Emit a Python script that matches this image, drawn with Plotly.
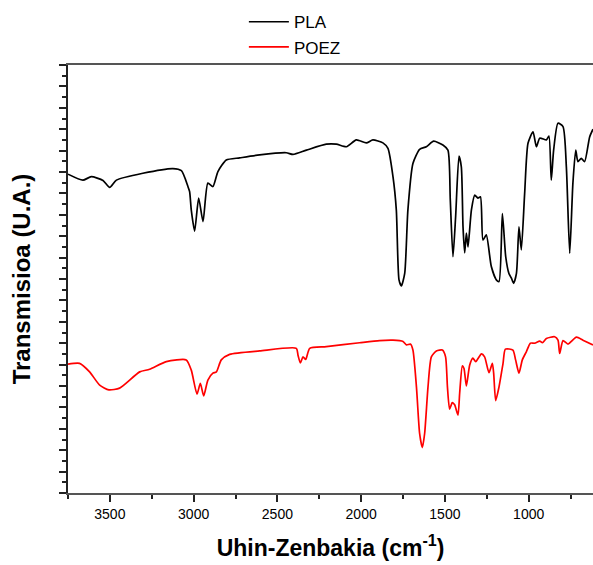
import plotly.graph_objects as go

# FTIR spectra: wavenumber (cm-1) and transmittance (arbitrary units, offset traces)
pla_wn = [3750, 3661, 3611, 3541, 3501, 3461, 3303, 3124, 3073, 3034, 3024, 3014,
          2994, 2970, 2944, 2915, 2885, 2855, 2805, 2725, 2606, 2447, 2407, 2327,
          2208, 2148, 2088, 2029, 1969, 1930, 1870, 1840, 1810, 1790, 1774, 1760,
          1740, 1721, 1691, 1651, 1611, 1567, 1512, 1482, 1468, 1452, 1436, 1416,
          1402, 1392, 1382, 1372, 1362, 1342, 1322, 1303, 1288, 1273, 1253, 1223,
          1193, 1177, 1157, 1137, 1118, 1103, 1090, 1073, 1058, 1044, 1024, 1004,
          974, 954, 934, 894, 879, 865, 851, 825, 795, 775, 755, 736, 719, 706,
          686, 666, 636, 616]
pla_t = [74.5, 73.1, 73.9, 73.0, 71.4, 73.1, 74.7, 75.8, 75.3, 71.6, 70.4, 66.1,
         61.2, 68.9, 63.4, 72.4, 71.6, 75.1, 77.8, 78.3, 79.0, 79.5, 79.1, 80.1,
         81.5, 81.5, 80.9, 82.5, 81.8, 82.5, 81.8, 80.5, 73.9, 66.1, 49.8, 48.4,
         51.3, 66.1, 77.0, 80.3, 80.9, 82.2, 81.3, 80.1, 68.5, 55.2, 64.6, 78.7,
         76.2, 62.2, 56.1, 60.7, 57.5, 66.1, 69.6, 68.9, 69.2, 59.1, 60.3, 52.9,
         49.8, 49.4, 65.3, 55.2, 51.3, 50.2, 49.0, 51.3, 62.2, 56.8, 70.0, 81.7,
         84.4, 80.9, 82.9, 82.5, 83.4, 73.1, 80.1, 86.4, 85.6, 76.2, 56.0, 72.4,
         80.1, 77.4, 78.2, 77.4, 83.2, 85.0]

poez_wn = [3750, 3681, 3621, 3561, 3506, 3442, 3322, 3263, 3163, 3044, 3014, 2980,
           2960, 2940, 2915, 2885, 2864, 2835, 2785, 2606, 2387, 2377, 2363, 2347,
           2331, 2307, 2208, 2009, 1890, 1810, 1750, 1730, 1706, 1691, 1670, 1651,
           1635, 1621, 1601, 1581, 1551, 1515, 1496, 1485, 1472, 1456, 1442, 1422,
           1412, 1396, 1386, 1372, 1352, 1333, 1316, 1282, 1263, 1237, 1217, 1209,
           1197, 1177, 1153, 1139, 1094, 1078, 1058, 1038, 1014, 990, 964, 934,
           918, 894, 845, 825, 815, 795, 765, 715, 676, 616]
poez_t = [30.1, 30.3, 28.3, 25.2, 24.1, 24.5, 28.3, 28.9, 30.7, 31.1, 28.7, 23.1,
          25.6, 22.7, 26.4, 28.0, 28.3, 31.1, 32.4, 33.2, 33.8, 32.2, 30.4, 31.8,
          31.2, 33.8, 34.2, 35.1, 35.6, 35.7, 35.4, 34.6, 34.8, 33.4, 24.8, 13.9,
          10.6, 13.9, 24.8, 31.8, 33.2, 33.4, 31.8, 24.8, 19.6, 21.1, 20.6, 18.2,
          23.3, 29.7, 29.1, 25.0, 29.9, 31.5, 30.7, 32.5, 31.8, 28.1, 30.3, 28.0,
          21.6, 24.8, 30.3, 33.6, 33.4, 31.1, 28.0, 31.1, 33.0, 35.0, 35.0, 35.5,
          35.1, 36.1, 36.5, 35.7, 32.6, 35.6, 34.8, 36.4, 35.7, 34.6]

x_tickvals = [3500, 3000, 2500, 2000, 1500, 1000]

FONT = "Arial, Liberation Sans, sans-serif"
AXIS_COLOR = "#555555"

fig = go.Figure()
fig.add_trace(go.Scatter(x=pla_wn, y=pla_t, mode="lines", name="PLA",
                         line=dict(color="#000000", width=1.7, shape="spline", smoothing=0.6)))
fig.add_trace(go.Scatter(x=poez_wn, y=poez_t, mode="lines", name="POEZ",
                         line=dict(color="#ff0000", width=1.7, shape="spline", smoothing=0.6)))

fig.update_layout(
    width=593, height=565,
    margin=dict(l=68, r=0, t=65, b=72),
    paper_bgcolor="white", plot_bgcolor="white",
    font=dict(family=FONT, color="#000000"),
    showlegend=True,
    legend=dict(x=0.335, y=1.142, xanchor="left", yanchor="top",
                font=dict(size=17, family=FONT), bgcolor="rgba(0,0,0,0)",
                itemwidth=40, tracegroupgap=0),
    xaxis=dict(
        range=[3750, 616],
        tickmode="array", tickvals=x_tickvals,
        ticks="outside", ticklen=7, tickwidth=1.5, tickcolor="#222222",
        minor=dict(dtick=250, tick0=0, ticks="outside", ticklen=4, tickwidth=1.5, tickcolor="#222222"),
        showline=True, linecolor=AXIS_COLOR, linewidth=2, mirror=True,
        showgrid=False, zeroline=False,
        tickfont=dict(size=14, family=FONT),
        title=dict(text="<b>Uhin-Zenbakia (cm<sup>-1</sup>)</b>", font=dict(size=23, family=FONT), standoff=19),
    ),
    yaxis=dict(
        range=[0, 100],
        tickmode="linear", tick0=0, dtick=5,
        ticks="outside", ticklen=7, tickwidth=1.5, tickcolor="#222222",
        minor=dict(dtick=2.5, tick0=0, ticks="outside", ticklen=4, tickwidth=1.5, tickcolor="#222222"),
        showticklabels=False,
        showline=True, linecolor="#222222", linewidth=1.5, mirror=False,
        showgrid=False, zeroline=False,
        title=dict(text="<b>Transmisioa (U.A.)</b>", font=dict(size=24, family=FONT), standoff=22),
    ),
)

fig.write_html("out.html")
